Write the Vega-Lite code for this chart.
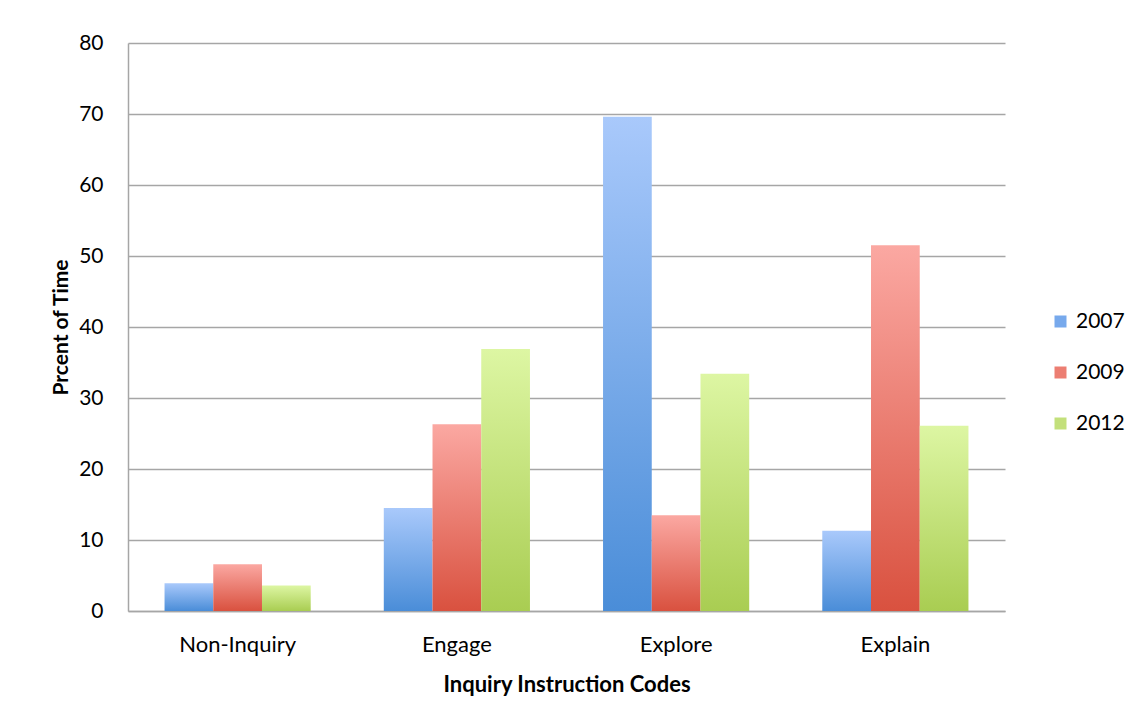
{
  "$schema": "https://vega.github.io/schema/vega-lite/v6.json",
  "width": 877,
  "height": 568,
  "autosize": {"type": "none"},
  "padding": {"left": 128, "top": 43, "right": 141, "bottom": 114},
  "background": "white",
  "data": {
    "values": [
      {"code": "Non-Inquiry", "year": "2007", "pct": 3.9},
      {"code": "Non-Inquiry", "year": "2009", "pct": 6.6},
      {"code": "Non-Inquiry", "year": "2012", "pct": 3.6},
      {"code": "Engage", "year": "2007", "pct": 14.5},
      {"code": "Engage", "year": "2009", "pct": 26.3},
      {"code": "Engage", "year": "2012", "pct": 36.9},
      {"code": "Explore", "year": "2007", "pct": 69.6},
      {"code": "Explore", "year": "2009", "pct": 13.5},
      {"code": "Explore", "year": "2012", "pct": 33.4},
      {"code": "Explain", "year": "2007", "pct": 11.3},
      {"code": "Explain", "year": "2009", "pct": 51.5},
      {"code": "Explain", "year": "2012", "pct": 26.1}
    ]
  },
  "encoding": {
    "x": {
      "field": "code",
      "type": "nominal",
      "sort": ["Non-Inquiry", "Engage", "Explore", "Explain"],
      "scale": {"paddingInner": 0.3333, "paddingOuter": 0.1667},
      "axis": {
        "title": "Inquiry Instruction Codes",
        "labelAngle": 0,
        "labelFontSize": 22,
        "labelPadding": 23,
        "ticks": false,
        "titleFontSize": 22,
        "titleFontWeight": "bold",
        "titlePadding": 19
      }
    },
    "xOffset": {"field": "year", "type": "nominal", "scale": {"domain": ["2007", "2009", "2012"]}},
    "y": {
      "field": "pct",
      "type": "quantitative",
      "scale": {"domain": [0, 80]},
      "axis": {
        "title": "Prcent of Time",
        "values": [0, 10, 20, 30, 40, 50, 60, 70, 80],
        "labelFontSize": 21,
        "labelPadding": 25,
        "ticks": false,
        "titleFontSize": 21,
        "titleFontWeight": "bold",
        "titlePadding": 7,
        "grid": true
      }
    }
  },
  "layer": [
    {
      "mark": {"type": "bar", "opacity": 0},
      "encoding": {
        "fill": {
          "field": "year",
          "type": "nominal",
          "scale": {"domain": ["2007", "2009", "2012"], "range": ["#77a9ec", "#ec7e72", "#c3e07b"]},
          "legend": {
            "title": null,
            "orient": "none",
            "legendX": 922,
            "legendY": 268,
            "symbolType": "square",
            "symbolSize": 144,
            "symbolOpacity": 1,
            "symbolStrokeWidth": 0,
            "labelFontSize": 21,
            "labelOffset": 5,
            "rowPadding": 29
          }
        }
      }
    },
    {
      "transform": [{"filter": "datum.year == '2007'"}],
      "mark": {"type": "bar", "fill": {"gradient": "linear", "x1": 0, "y1": 0, "x2": 0, "y2": 1, "stops": [{"offset": 0, "color": "#a9c9fb"}, {"offset": 1, "color": "#4a8dd8"}]}}
    },
    {
      "transform": [{"filter": "datum.year == '2009'"}],
      "mark": {"type": "bar", "fill": {"gradient": "linear", "x1": 0, "y1": 0, "x2": 0, "y2": 1, "stops": [{"offset": 0, "color": "#fba8a2"}, {"offset": 1, "color": "#d9513f"}]}}
    },
    {
      "transform": [{"filter": "datum.year == '2012'"}],
      "mark": {"type": "bar", "fill": {"gradient": "linear", "x1": 0, "y1": 0, "x2": 0, "y2": 1, "stops": [{"offset": 0, "color": "#ddf6a3"}, {"offset": 1, "color": "#a9cd52"}]}}
    }
  ],
  "config": {
    "font": "Lato",
    "view": {"stroke": null},
    "axis": {
      "labelColor": "#000000",
      "titleColor": "#000000",
      "labelFont": "Lato",
      "titleFont": "Lato",
      "domainColor": "#a6a6a6",
      "domainWidth": 1.5,
      "gridColor": "#a6a6a6",
      "gridWidth": 1.5
    },
    "legend": {"labelColor": "#000000", "labelFont": "Lato"}
  }
}
